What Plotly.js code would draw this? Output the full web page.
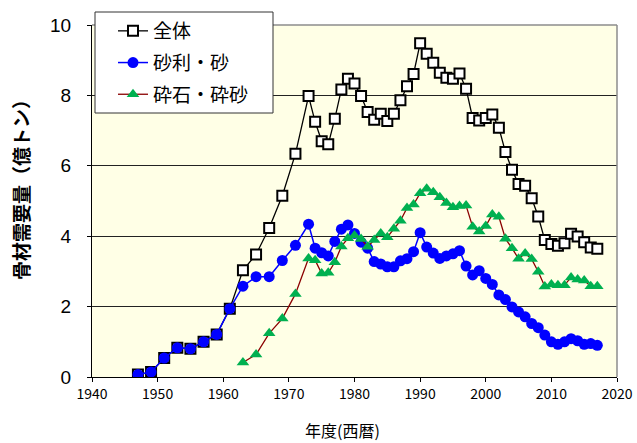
<!DOCTYPE html>
<html>
<head>
<meta charset="utf-8">
<script src="https://cdn.plot.ly/plotly-3.0.1.min.js"></script>
<style>
  html, body { margin: 0; padding: 0; background: #ffffff; }
  #chart { width: 637px; height: 443px; }
</style>
</head>
<body>
<div id="chart"></div>
<script>
// 年度（西暦）
const yearsAll = [1947, 1949, 1951, 1953, 1955, 1957, 1959, 1961, 1963, 1965, 1967, 1969, 1971,
  1973, 1974, 1975, 1976, 1977, 1978, 1979, 1980, 1981, 1982, 1983, 1984, 1985, 1986, 1987, 1988, 1989,
  1990, 1991, 1992, 1993, 1994, 1995, 1996, 1997, 1998, 1999, 2000, 2001, 2002, 2003, 2004, 2005, 2006,
  2007, 2008, 2009, 2010, 2011, 2012, 2013, 2014, 2015, 2016, 2017];

const yearsCrushed = [1963, 1965, 1967, 1969, 1971,
  1973, 1974, 1975, 1976, 1977, 1978, 1979, 1980, 1981, 1982, 1983, 1984, 1985, 1986, 1987, 1988, 1989,
  1990, 1991, 1992, 1993, 1994, 1995, 1996, 1997, 1998, 1999, 2000, 2001, 2002, 2003, 2004, 2005, 2006,
  2007, 2008, 2009, 2010, 2011, 2012, 2013, 2014, 2015, 2016, 2017];

// 全体（億トン）
const totalDemand = [0.07, 0.14, 0.54, 0.83, 0.80, 1.00, 1.21, 1.94, 3.03, 3.48, 4.23, 5.15, 6.34,
  7.98, 7.25, 6.70, 6.61, 7.34, 8.17, 8.47, 8.34, 7.98, 7.53, 7.31, 7.48, 7.27, 7.48, 7.86, 8.26, 8.61,
  9.48, 9.18, 8.93, 8.64, 8.50, 8.47, 8.62, 8.19, 7.36, 7.29, 7.36, 7.46, 7.08, 6.39, 5.89, 5.48, 5.43,
  5.08, 4.56, 3.89, 3.78, 3.73, 3.80, 4.07, 3.99, 3.83, 3.68, 3.64];

// 砂利・砂（億トン）
const gravelSand = [0.07, 0.14, 0.54, 0.83, 0.80, 1.00, 1.21, 1.94, 2.58, 2.85, 2.85, 3.31, 3.74,
  4.34, 3.66, 3.53, 3.44, 3.85, 4.20, 4.32, 4.08, 3.83, 3.66, 3.28, 3.21, 3.13, 3.13, 3.30, 3.36, 3.56,
  4.10, 3.69, 3.52, 3.37, 3.44, 3.50, 3.59, 3.15, 2.90, 3.02, 2.80, 2.63, 2.33, 2.20, 1.99, 1.85, 1.71,
  1.52, 1.40, 1.19, 1.00, 0.93, 1.00, 1.09, 1.03, 0.93, 0.95, 0.90];

// 砕石・砕砂（億トン）
const crushedStone = [0.41, 0.64, 1.24, 1.66, 2.36,
  3.37, 3.32, 2.94, 2.96, 3.26, 3.71, 3.94, 4.02, 3.92, 3.70, 3.89, 4.08, 3.97, 4.21, 4.44, 4.80, 4.90,
  5.22, 5.35, 5.25, 5.11, 4.94, 4.82, 4.86, 4.87, 4.27, 4.13, 4.29, 4.62, 4.55, 3.93, 3.66, 3.36, 3.51,
  3.35, 2.99, 2.57, 2.63, 2.61, 2.61, 2.83, 2.77, 2.74, 2.58, 2.58];

const seriesNames = ['全体', '砂利・砂', '砕石・砕砂'];
const xTickVals = [1940, 1950, 1960, 1970, 1980, 1990, 2000, 2010, 2020];
const yTickVals = [0, 2, 4, 6, 8, 10];

const jpFont = '"Noto Sans CJK JP", "Noto Sans", sans-serif';

// plotting area in pixels, used to convert pixel placements into paper units
const plotLeft = 92, plotWidth = 525, plotBottom = 377, plotHeight = 352;
const px = v => (v - plotLeft) / plotWidth;
const py = v => (plotBottom - v) / plotHeight;

const traces = [
  {
    x: yearsAll, y: totalDemand, name: seriesNames[0], legendgroup: 'a',
    type: 'scatter', mode: 'lines+markers',
    line: { color: '#000000', width: 1.3 },
    marker: { symbol: 'square', size: 10, color: '#ffffff', line: { color: '#000000', width: 2 } }
  },
  {
    x: yearsAll, y: gravelSand, name: seriesNames[1], legendgroup: 'b',
    type: 'scatter', mode: 'lines+markers',
    line: { color: '#0000ff', width: 1.5 },
    marker: { symbol: 'circle', size: 11, color: '#0000ff', line: { width: 0 } }
  },
  {
    x: yearsCrushed, y: crushedStone, name: seriesNames[2], legendgroup: 'c',
    type: 'scatter', mode: 'lines+markers',
    line: { color: '#8b0000', width: 1.3 },
    marker: { symbol: 'triangle-up', size: 11, color: '#00b050', line: { width: 0 } }
  }
];

const layout = {
  width: 637, height: 443,
  margin: { l: 92, r: 20, t: 25, b: 66, pad: 0 },
  paper_bgcolor: '#ffffff',
  plot_bgcolor: '#ffffe6',
  showlegend: true,
  legend: {
    x: px(113), y: py(12), xanchor: 'left', yanchor: 'top',
    bgcolor: 'rgba(0,0,0,0)', borderwidth: 0,
    font: { family: jpFont, size: 19, color: '#000000' },
    tracegroupgap: 4, itemwidth: 30
  },
  xaxis: {
    range: [1940, 2020], tickvals: xTickVals, ticktext: xTickVals.map(String),
    showgrid: false, zeroline: false,
    showline: true, linecolor: '#000000', linewidth: 1,
    ticks: 'outside', ticklen: 4, tickcolor: '#000000',
    tickfont: { family: jpFont, size: 14, color: '#000000' },
    fixedrange: true
  },
  yaxis: {
    range: [0, 10], tickvals: yTickVals, ticktext: yTickVals.map(String),
    showgrid: true, gridcolor: '#222222', gridwidth: 1, zeroline: false,
    showline: true, linecolor: '#000000', linewidth: 1,
    ticks: 'outside', ticklen: 4, tickcolor: '#000000',
    ticklabelstandoff: 12,
    tickfont: { family: '"Liberation Sans", Arial, sans-serif', size: 19, color: '#000000' },
    fixedrange: true
  },
  shapes: [
    // gray frame on the top and right of the plotting area
    { type: 'line', xref: 'paper', yref: 'paper', x0: 0, x1: 1, y0: 1, y1: 1,
      line: { color: '#8c8c8c', width: 1.5 }, layer: 'above' },
    { type: 'line', xref: 'paper', yref: 'paper', x0: 1, x1: 1, y0: 0, y1: 1,
      line: { color: '#8c8c8c', width: 1.5 }, layer: 'above' },
    // legend frame
    { type: 'rect', xref: 'paper', yref: 'paper', x0: px(95), x1: px(273), y0: py(113), y1: py(12),
      fillcolor: '#ffffff', line: { color: '#333333', width: 1 }, layer: 'above' }
  ],
  annotations: [
    { text: '年度(西暦)', xref: 'paper', yref: 'paper', x: px(342), y: py(430),
      xanchor: 'center', yanchor: 'middle', showarrow: false,
      font: { family: jpFont, size: 16, color: '#000000' } },
    { text: '<b>骨材需要量（億トン）</b>', xref: 'paper', yref: 'paper', x: px(20), y: py(185),
      xanchor: 'center', yanchor: 'middle', textangle: -90, showarrow: false,
      font: { family: jpFont, size: 19, color: '#000000' } }
  ]
};

Plotly.newPlot('chart', traces, layout, { displayModeBar: false, staticPlot: true });
</script>
</body>
</html>
